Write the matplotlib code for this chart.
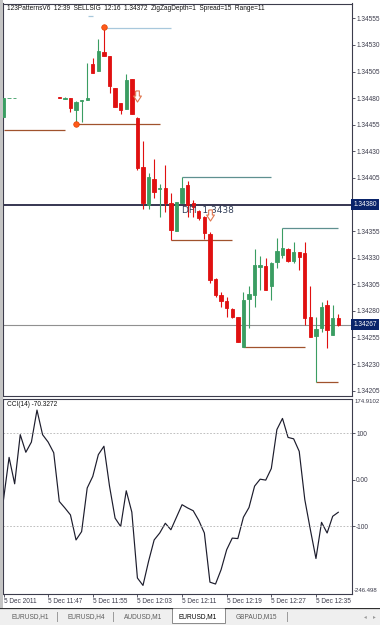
import numpy as np
import matplotlib.pyplot as plt
import matplotlib.transforms as mtransforms
from matplotlib.path import Path
from matplotlib.patches import Rectangle

plt.rcParams["font.family"] = ["Liberation Sans", "DejaVu Sans"]

# EURUSD M1, 5 Dec 2011, bars 11:39 .. 12:39 (index 0..60)
nan = np.nan
opens = [1.34462, 1.34480, 1.34480, nan, nan, nan, nan, nan, nan, nan,
         1.34481, 1.34479, 1.34480, 1.34469, 1.34477, 1.34478, 1.34512, 1.34506, 1.34523, 1.34520,
         1.34490, 1.34475, 1.34470, 1.34498, 1.34461, 1.34415, 1.34380, 1.34404, 1.34395, 1.34396,
         1.34381, 1.34355, 1.34381, 1.34398, 1.34381, 1.34374, 1.34368, 1.34352, 1.34310, 1.34295,
         1.34289, 1.34282, 1.34274, 1.34246, 1.34291, 1.34295, 1.34321, 1.34322, 1.34303, 1.34326,
         1.34333, 1.34338, 1.34327, 1.34335, 1.34334, 1.34274, 1.34256, 1.34264, 1.34286, 1.34257,
         1.34273]
highs = [1.34480, 1.34480, 1.34480, nan, nan, nan, nan, nan, nan, nan,
         1.34481, 1.34481, 1.34480, 1.34477, 1.34478, 1.34513, 1.34518, 1.34536, 1.34547, 1.34520,
         1.34490, 1.34475, 1.34503, 1.34498, 1.34462, 1.34440, 1.34410, 1.34423, 1.34399, 1.34417,
         1.34391, 1.34382, 1.34406, 1.34402, 1.34384, 1.34375, 1.34369, 1.34354, 1.34311, 1.34298,
         1.34293, 1.34283, 1.34274, 1.34298, 1.34303, 1.34338, 1.34332, 1.34330, 1.34326, 1.34349,
         1.34358, 1.34339, 1.34345, 1.34335, 1.34345, 1.34303, 1.34274, 1.34288, 1.34290, 1.34286,
         1.34277]
lows = [1.34462, 1.34480, 1.34480, nan, nan, nan, nan, nan, nan, nan,
        1.34480, 1.34479, 1.34467, 1.34456, 1.34458, 1.34478, 1.34504, 1.34506, 1.34520, 1.34485,
        1.34472, 1.34465, 1.34470, 1.34465, 1.34412, 1.34376, 1.34376, 1.34386, 1.34368, 1.34373,
        1.34347, 1.34355, 1.34381, 1.34368, 1.34368, 1.34365, 1.34348, 1.34306, 1.34293, 1.34284,
        1.34274, 1.34273, 1.34251, 1.34246, 1.34264, 1.34284, 1.34300, 1.34300, 1.34290, 1.34320,
        1.34330, 1.34326, 1.34325, 1.34318, 1.34267, 1.34255, 1.34213, 1.34260, 1.34245, 1.34257,
        1.34266]
closes = [1.34480, 1.34480, 1.34480, nan, nan, nan, nan, nan, nan, nan,
          1.34480, 1.34480, 1.34471, 1.34476, 1.34478, 1.34480, 1.34504, 1.34524, 1.34520, 1.34491,
          1.34472, 1.34469, 1.34497, 1.34465, 1.34414, 1.34381, 1.34406, 1.34392, 1.34396, 1.34381,
          1.34356, 1.34382, 1.34396, 1.34380, 1.34378, 1.34367, 1.34353, 1.34309, 1.34295, 1.34289,
          1.34283, 1.34274, 1.34251, 1.34290, 1.34296, 1.34323, 1.34323, 1.34300, 1.34325, 1.34336,
          1.34339, 1.34327, 1.34335, 1.34331, 1.34273, 1.34255, 1.34263, 1.34284, 1.34262, 1.34273,
          1.34267]

cci = [-43, 48, -9, 97, 59, 81, 150, 97, 81, 58,
       -47, -61, -76, -130, -112, -18, 7, 54, 72, -14,
       -83, -101, -24, -70, -212, -228, -176, -130, -115, -94,
       -108, -81, -54, -61, -67, -88, -115, -221, -225, -194,
       -151, -126, -127, -81, -60, -14, 1, -1, 24, 108,
       132, 91, 88, 61, -43, -108, -170, -92, -115, -79, -70.3272]

time_labels = ["5 Dec 2011", "5 Dec 11:47", "5 Dec 11:55", "5 Dec 12:03",
               "5 Dec 12:11", "5 Dec 12:19", "5 Dec 12:27", "5 Dec 12:35"]

# pattern levels drawn by the indicator
support_price = [1.34450, 1.34456, 1.34347, 1.34246, 1.34213]
support_from = [0, 13, 30, 43, 56]
support_to = [11, 28, 41, 54, 60]
resist_price = [1.34557, 1.34546, 1.34406, 1.34358]
resist_from = [15.1, 18, 32, 50]
resist_to = [16.0, 30, 48, 60]
zigzag_idx = [13, 18]
zigzag_price = [1.34456, 1.34547]
sell_idx = [24, 37]
sell_price = [1.34482, 1.34370]

signal_line = 1.34380
last_price = 1.34267
cci_top, cci_bottom = 174.9102, -246.498

tab_names = ["EURUSD,H1", "EURUSD,H4", "AUDUSD,M1", "EURUSD,M1", "GBPAUD,M15"]

BULL = "#3a9d62"
BEAR = "#e01010"
FRAME = "#3c3c4c"
FS = 4.7

W, H = 380.0, 625.0
fig = plt.figure(figsize=(W / 100, H / 100), dpi=100)
fig.patch.set_facecolor("white")
ax = fig.add_axes([3 / W, 1 - 396 / H, 349 / W, 392.5 / H])
ax2 = fig.add_axes([3 / W, 1 - 594 / H, 349 / W, 195.5 / H])
tab_ax = fig.add_axes([0, 0, 1, 17 / H])

fig.add_artist(Rectangle((0, 17 / H), 2.6 / W, 1 - 17 / H, transform=fig.transFigure,
                         color="#c4c4c4", lw=0))

# ---- price panel ----
o, h, l, c = (np.array(v, dtype=float) for v in (opens, highs, lows, closes))
idx = np.arange(len(o))
ok = ~np.isnan(o)
col = np.where(c >= o, BULL, BEAR)
ax.vlines(idx[ok], l[ok], h[ok], colors=col[ok], lw=0.8, zorder=3)
ax.bar(idx[ok], np.abs(c - o)[ok], bottom=np.minimum(o, c)[ok], width=0.6,
       color=col[ok], edgecolor=col[ok], linewidth=0.6, zorder=3)

ax.axhline(signal_line, color="#000022", lw=1.1, zorder=2)
ax.axhline(last_price, color="#909090", lw=0.8, zorder=2)

ax.hlines(support_price, support_from, support_to, colors="#a0522d", lw=0.9, zorder=2)
ax.hlines(resist_price, resist_from, resist_to,
          colors=["#a8c8dc", "#a8c8dc", "#5f9090", "#5f9090"], lw=0.9, zorder=2)
ax.plot(zigzag_idx, zigzag_price, "o", ms=4, mfc="#ff5a1a", mec="#e04000", mew=0.5, zorder=5)

arrow = Path([(-0.2, 0.6), (0.2, 0.6), (0.2, 0.05), (0.42, 0.05), (0, -0.6),
              (-0.42, 0.05), (-0.2, 0.05), (-0.2, 0.6)])
ax.plot(sell_idx, sell_price, ls="none", marker=arrow, ms=8, mfc="white",
        mec="#e07850", mew=0.8, zorder=6)
ax.text(32, 1.34374, "DFI  1.3438", fontsize=6.5, color="#34405a", va="center",
        ha="left", family=["DejaVu Sans"], zorder=5)

ax.text(0.012, 0.995, "123PatternsV6  12:39  SELLSIG  12:16  1.34372  ZigZagDepth=1  Spread=15  Range=11",
        transform=ax.transAxes, va="top", ha="left", fontsize=FS, color="#111111")

ax.set_xlim(-0.09, 62.46)
ax.set_ylim(1.34200, 1.34569)
price_ticks = np.round(np.arange(1.34205, 1.34556, 0.00025), 5)
ax.set_yticks(price_ticks)
# the signal line label sits on top of the 1.34380 tick
ax.set_yticklabels(["" if abs(t - signal_line) < 1e-6 else f"{t:.5f}" for t in price_ticks])
ax.yaxis.tick_right()
ax.tick_params(axis="y", length=2, width=0.6, pad=1, labelsize=FS, colors=FRAME)
ax.tick_params(axis="x", bottom=False, labelbottom=False)

tr = mtransforms.blended_transform_factory(ax.transAxes, ax.transData)
for val in (signal_line, last_price):
    ax.text(1.003, val, f"{val:.5f}", transform=tr, ha="left", va="center", fontsize=FS,
            color="white", clip_on=False, zorder=10,
            bbox=dict(boxstyle="square,pad=0.3", fc="#0a246a", ec="none"))

# ---- CCI panel ----
ax2.plot(idx, cci, color="#1c1c2c", lw=0.85)
for lv in (100, -100):
    ax2.axhline(lv, color="#b4b4b4", lw=0.6, ls=(0, (2, 2)))
ax2.set_xlim(-0.09, 62.46)
ax2.set_ylim(cci_bottom, cci_top)
ax2.set_yticks([100, 0, -100])
ax2.set_yticklabels(["100", "0.00", "-100"])
ax2.yaxis.tick_right()
ax2.tick_params(axis="y", length=2, width=0.6, pad=1, labelsize=FS, colors=FRAME)
ax2.text(1.006, 0.995, f"{cci_top:.4f}", transform=ax2.transAxes, ha="left", va="top",
         fontsize=4.3, color=FRAME, clip_on=False)
ax2.text(1.006, 0.005, f"{cci_bottom:.3f}", transform=ax2.transAxes, ha="left", va="bottom",
         fontsize=4.3, color=FRAME, clip_on=False)
ax2.text(0.012, 0.985, f"CCI(14) {cci[-1]:.4f}", transform=ax2.transAxes, va="top",
         ha="left", fontsize=FS, color="#111111")

ax2.set_xticks(np.arange(0, 57, 8))
ax2.set_xticklabels(time_labels, ha="left")
ax2.tick_params(axis="x", length=2, width=0.6, pad=1, labelsize=FS, colors=FRAME)

for a in (ax, ax2):
    for s in a.spines.values():
        s.set_color(FRAME)
        s.set_linewidth(0.8)

# ---- symbol tabs ----
tab_ax.set_xlim(0, W)
tab_ax.set_ylim(0, 17)
tab_ax.set_facecolor("#efefef")
tab_ax.set_xticks([])
tab_ax.set_yticks([])
for s in tab_ax.spines.values():
    s.set_visible(False)
tab_ax.plot([0, 172], [16.6, 16.6], color="#303030", lw=0.9)
tab_ax.plot([225, W], [16.6, 16.6], color="#303030", lw=0.9)
tab_ax.add_patch(Rectangle((172, 2), 53, 15, fc="white", ec="#8a8a8a", lw=0.7))
tab_x = [30, 86, 143, 198, 256]
for i, (name, x) in enumerate(zip(tab_names, tab_x)):
    tab_ax.text(x, 8.5, name, ha="center", va="center", fontsize=FS,
                color="#000000" if i == 3 else "#5a5a5a")
for x in (57, 113, 287):
    tab_ax.plot([x, x], [4, 13], color="#9a9a9a", lw=0.7)
tab_ax.text(365, 8.5, "◂", ha="center", va="center", fontsize=4, color="#9a9a9a")
tab_ax.text(374, 8.5, "▸", ha="center", va="center", fontsize=4, color="#9a9a9a")

fig.savefig("out.png", dpi=100)
